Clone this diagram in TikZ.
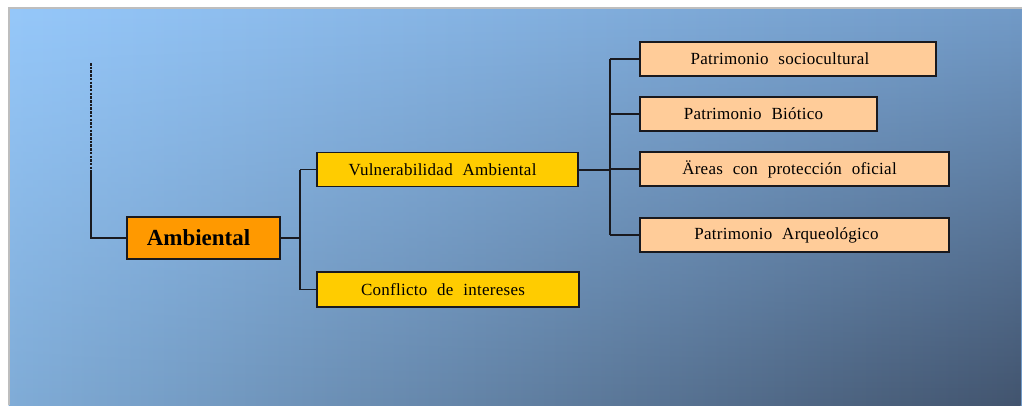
\documentclass[tikz,border=0pt]{standalone}
\usepackage{fontspec}
\usetikzlibrary{fadings}
\setmainfont{Liberation Serif}[WordSpace=2.2,LetterSpace=1.5]
\newfontfamily\boldface{Liberation Serif}[WordSpace=1]
\definecolor{bgtl}{RGB}{150,200,250}
\definecolor{bgtr}{RGB}{114,155,200}
\definecolor{bgbl}{RGB}{128,172,215}
\definecolor{bgbr}{RGB}{66,84,110}
\definecolor{frame}{RGB}{190,190,190}
\definecolor{orangebox}{RGB}{255,153,0}
\definecolor{yellowbox}{RGB}{255,204,0}
\definecolor{peachbox}{RGB}{255,204,153}
\definecolor{linec}{RGB}{25,25,30}
\newcommand{\lsh}[1]{#1\kern10pt}
\newcommand{\lshh}[1]{#1\kern16pt}
\tikzset{
  box/.style={draw=linec, line width=1.3pt, inner sep=0pt, font=\fontsize{17}{19}\selectfont},
  mainbox/.style={box, fill=orangebox, font=\boldface\bfseries\fontsize{23}{26}\selectfont},
  midbox/.style={box, fill=yellowbox},
  leafbox/.style={box, fill=peachbox},
  conn/.style={draw=linec, line width=1.3pt},
}
\begin{document}
\begin{tikzpicture}[x=1pt,y=-1pt]
\useasboundingbox (0,0) rectangle (1022,405);
\fill[white] (0,0) rectangle (1022,405);
\shade[left color=bgtl, right color=bgtr] (9,8) rectangle (1022,405);
\shade[left color=bgbl, right color=bgbr, path fading=north] (9,8) rectangle (1022,405);
\draw[frame, line width=2pt] (9,405) -- (9,8) -- (1022,8);

\node[mainbox, minimum width=153pt, minimum height=42pt] (amb) at (203.5,238) {\lsh{Ambiental}};
\node[midbox, minimum width=261pt, minimum height=34pt] (vul) at (447.5,169.5) {\lsh{Vulnerabilidad Ambiental}};
\node[midbox, minimum width=262pt, minimum height=35pt] (con) at (448,289.5) {\lsh{Conflicto de intereses}};
\node[leafbox, minimum width=296pt, minimum height=34pt] (soc) at (788,59) {\lshh{Patrimonio sociocultural}};
\node[leafbox, minimum width=237pt, minimum height=34pt] (bio) at (758.5,114) {\lsh{Patrimonio Biótico}};
\node[leafbox, minimum width=309pt, minimum height=34pt] (are) at (794.5,169) {\lsh{Äreas con protección oficial}};
\node[leafbox, minimum width=309pt, minimum height=34pt] (arq) at (794.5,235) {\lshh{Patrimonio Arqueológico}};

\coordinate (top) at (91,63);
\coordinate (dashend) at (91,173);
\coordinate (j1) at (300,0);
\coordinate (j2) at (610,0);

\draw[conn, line width=1.8pt, dash pattern=on 2.5pt off 1.2pt] (top) -- (dashend);
\draw[conn] (dashend) |- (amb.west);
\draw[conn] (amb.east) -- (amb.east -| j1);
\draw[conn] (vul.west -| j1) -- (con.west -| j1);
\draw[conn] (vul.west -| j1) -- (vul.west);
\draw[conn] (con.west -| j1) -- (con.west);
\draw[conn, line width=2pt] (vul.east) -- (vul.east -| j2);
\draw[conn] (soc.west -| j2) -- (arq.west -| j2);
\draw[conn] (soc.west -| j2) -- (soc.west);
\draw[conn] (bio.west -| j2) -- (bio.west);
\draw[conn] (are.west -| j2) -- (are.west);
\draw[conn] (arq.west -| j2) -- (arq.west);
\end{tikzpicture}
\end{document}
